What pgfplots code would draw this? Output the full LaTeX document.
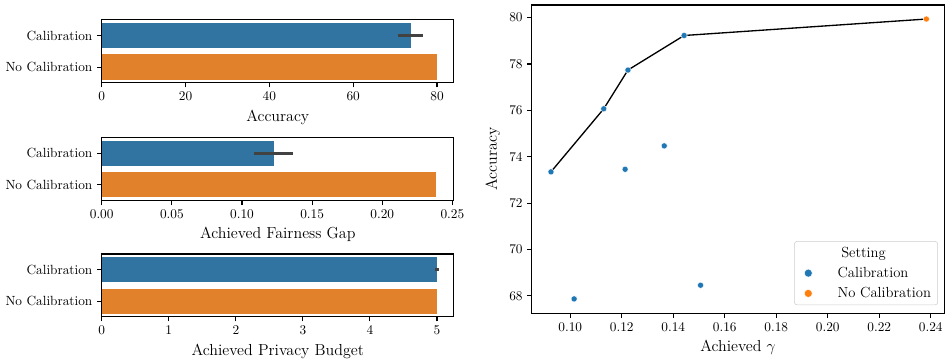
\documentclass[border=0pt]{standalone}
\usepackage{pgfplots}
\pgfplotsset{compat=1.18}
\definecolor{barblue}{HTML}{3274A1}
\definecolor{barorange}{HTML}{E1812C}
\definecolor{ptblue}{HTML}{1F77B4}
\definecolor{ptorange}{HTML}{FF7F0E}
\definecolor{errgray}{HTML}{424242}
\pgfplotsset{
  common/.style={
    scale only axis, anchor=north west,
    tick pos=left, tick align=outside, major tick length=3.5pt,
    axis line style={line width=0.8pt},
    every tick/.style={black, line width=0.8pt},
    tick label style={font=\fontsize{10}{12}\selectfont},
    label style={font=\fontsize{12}{14}\selectfont},
  },
  baraxis/.style={
    common, width=264.75pt, height=47.25pt,
    y dir=reverse, ymin=-0.5, ymax=1.5, ytick={0,1},
    yticklabels={Calibration,No Calibration},
    xmin=0, bar width=0.8,
  },
}
\begin{document}
\begin{tikzpicture}
\path (0,0) rectangle (710.25pt,-268.5pt);
% Accuracy
\begin{axis}[baraxis, at={(76.5pt,-15pt)}, xmax=84, xtick={0,20,40,60,80}, xlabel={Accuracy}]
\addplot[xbar, bar shift=0pt, fill=barblue, draw=none] coordinates {(73.8,0)};
\addplot[xbar, bar shift=0pt, fill=barorange, draw=none] coordinates {(80.0,1)};
\addplot[errgray, line width=2.2pt] coordinates {(70.8,0) (76.7,0)};
\end{axis}
% Fairness gap
\begin{axis}[baraxis, at={(76.5pt,-103.5pt)}, xmax=0.251, xtick={0,0.05,0.10,0.15,0.20,0.25},
  xticklabel style={/pgf/number format/.cd, fixed, fixed zerofill, precision=2},
  xlabel={Achieved Fairness Gap}]
\addplot[xbar, bar shift=0pt, fill=barblue, draw=none] coordinates {(0.123,0)};
\addplot[xbar, bar shift=0pt, fill=barorange, draw=none] coordinates {(0.2385,1)};
\addplot[errgray, line width=2.2pt] coordinates {(0.1088,0) (0.1365,0)};
\end{axis}
% Privacy budget
\begin{axis}[baraxis, at={(76.5pt,-191pt)}, xmax=5.25, xtick={0,1,2,3,4,5},
  xlabel={Achieved Privacy Budget}]
\addplot[xbar, bar shift=0pt, fill=barblue, draw=none] coordinates {(5.0,0)};
\addplot[xbar, bar shift=0pt, fill=barorange, draw=none] coordinates {(5.0,1)};
\addplot[errgray, line width=2.2pt] coordinates {(4.97,0) (5.03,0)};
\end{axis}
% Scatter
\begin{axis}[common, at={(400pt,-3.75pt)}, width=310pt, height=231.75pt,
  xmin=0.0851, xmax=0.2452, ymin=67.256, ymax=80.546,
  xtick={0.10,0.12,0.14,0.16,0.18,0.20,0.22,0.24},
  ytick={68,70,72,74,76,78,80},
  xticklabel style={/pgf/number format/.cd, fixed, fixed zerofill, precision=2},
  xlabel={Achieved $\gamma$}, ylabel={Accuracy},
  legend style={at={(0.985,0.026)}, anchor=south east, draw=black!20, rounded corners=2pt,
    fill=white, font=\fontsize{11}{13}\selectfont, row sep=2pt},
  legend cell align=left,
  legend image code/.code={\path (0pt,0pt) (27pt,0pt); \draw[#1] plot coordinates {(7.2pt,0pt)};},
  legend image post style={mark size=3pt},
]
\addlegendimage{empty legend}
\addlegendentry{\hspace{2.8pt}Setting}
\addplot[only marks, mark=*, mark size=2.3pt, color=ptblue, mark options={draw=white, line width=0.3pt, fill=ptblue}]
 coordinates {(0.0925,73.35) (0.1130,76.07) (0.1224,77.74) (0.1442,79.23) (0.1213,73.46) (0.1365,74.47) (0.1015,67.87) (0.1506,68.46)};
\addlegendentry{Calibration}
\addplot[only marks, mark=*, mark size=2.3pt, color=ptorange, mark options={draw=white, line width=0.3pt, fill=ptorange}]
 coordinates {(0.2383,79.94)};
\addlegendentry{No Calibration}
\addplot[black, line width=1pt, forget plot] coordinates {(0.0925,73.35) (0.1130,76.07) (0.1224,77.74) (0.1442,79.23) (0.2383,79.94)};
\end{axis}
\end{tikzpicture}
\end{document}
